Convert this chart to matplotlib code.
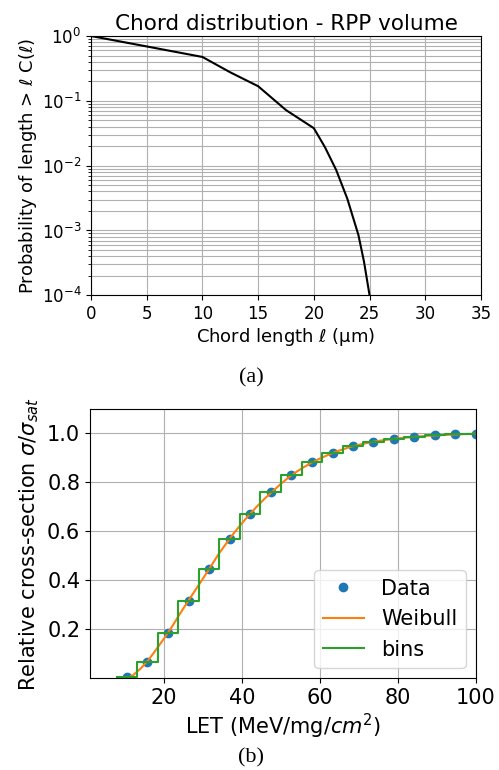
import matplotlib
matplotlib.use("Agg")
import matplotlib.pyplot as plt

# ---- Panel (a): chord distribution ----
chord_len = [0, 5, 10, 12.5, 15, 17.5, 20, 21, 22, 23, 24, 24.5, 25]
chord_prob = [1.0, 0.69, 0.475, 0.275, 0.168, 0.072, 0.0378, 0.0192, 0.0086,
              0.0031, 0.00085, 0.00033, 0.0001]

# ---- Panel (b): cross-section ----
let_data = [10.4, 15.7, 21.0, 26.3, 31.6, 36.8, 42.1, 47.4, 52.6, 57.9,
            63.2, 68.4, 73.7, 79.0, 84.2, 89.5, 94.7, 100.0]
xs_data = [0.004, 0.068, 0.184, 0.317, 0.448, 0.570, 0.673, 0.761, 0.829,
           0.882, 0.920, 0.948, 0.966, 0.978, 0.986, 0.992, 0.996, 0.999]

weibull_x = [10.5, 12, 14, 16, 18, 20, 22, 24, 26, 28, 30, 32, 34, 36, 38, 40,
             42, 44, 46, 48, 50, 52, 54, 56, 58, 60, 62, 64, 66, 68, 70, 72,
             74, 76, 78, 80, 84, 88, 92, 96, 100]
weibull_y = [0.0, 0.012, 0.040, 0.075, 0.118, 0.163, 0.210, 0.262, 0.311,
             0.360, 0.408, 0.457, 0.508, 0.552, 0.595, 0.634, 0.671, 0.705,
             0.737, 0.766, 0.795, 0.821, 0.844, 0.864, 0.882, 0.898, 0.912,
             0.925, 0.936, 0.946, 0.954, 0.961, 0.967, 0.972, 0.976, 0.980,
             0.986, 0.991, 0.994, 0.997, 0.999]

bin_edges = [7.8, 13.1, 18.4, 23.6, 28.9, 34.2, 39.5, 44.7, 50.0, 55.3, 60.5,
             65.8, 71.1, 76.3, 81.6, 86.8, 92.1, 97.4, 102.6]

W, H = 499, 770
fig = plt.figure(figsize=(W / 100, H / 100), dpi=100)

def rect(l, t, r, b):
    return [l / W, 1 - b / H, (r - l) / W, (b - t) / H]

# Panel (a)
ax1 = fig.add_axes(rect(91, 36, 481, 295.3))
ax1.plot(chord_len, chord_prob, color="black", lw=1.5)
ax1.set_yscale("log")
ax1.set_xlim(0, 35)
ax1.set_ylim(1e-4, 1)
ax1.set_xticks([0, 5, 10, 15, 20, 25, 30, 35])
ax1.grid(True, which="both", color="#b0b0b0", lw=0.8)
ax1.tick_params(labelsize=12)
ax1.set_title("Chord distribution - RPP volume", fontsize=15.5, pad=4)
ax1.set_xlabel(r"Chord length $\ell$ (μm)", fontsize=13, labelpad=2)
ax1.set_ylabel(r"Probability of length > $\ell$ C($\ell$)", fontsize=13, labelpad=2)

fig.text(251 / W, 1 - 378 / H, "(a)", ha="center", va="center",
         fontsize=16, family="Liberation Serif")

# Panel (b)
ax2 = fig.add_axes(rect(90, 409, 476, 678.3))
ax2.plot(let_data, xs_data, "o", color="#1f77b4", label="Data", ms=6)
ax2.plot(weibull_x, weibull_y, color="#ff7f0e", lw=1.5, label="Weibull")
ax2.step(bin_edges, xs_data + [xs_data[-1]], where="post", color="#2ca02c",
         lw=1.5, label="bins")
ax2.set_xlim(1, 100)
ax2.set_ylim(0, 1.1)
ax2.set_xticks([20, 40, 60, 80, 100])
ax2.set_yticks([0.2, 0.4, 0.6, 0.8, 1.0])
ax2.grid(True, color="#b0b0b0", lw=0.8)
ax2.tick_params(labelsize=15)
ax2.set_xlabel(r"LET (MeV/mg/$cm^2$)", fontsize=15, labelpad=3)
ax2.set_ylabel(r"Relative cross-section $\sigma/\sigma_{sat}$", fontsize=15, labelpad=4)
ax2.legend(loc="lower right", fontsize=15)

fig.text(251 / W, 1 - 758 / H, "(b)", ha="center", va="center",
         fontsize=16, family="Liberation Serif")

fig.savefig("out.png", dpi=100)
